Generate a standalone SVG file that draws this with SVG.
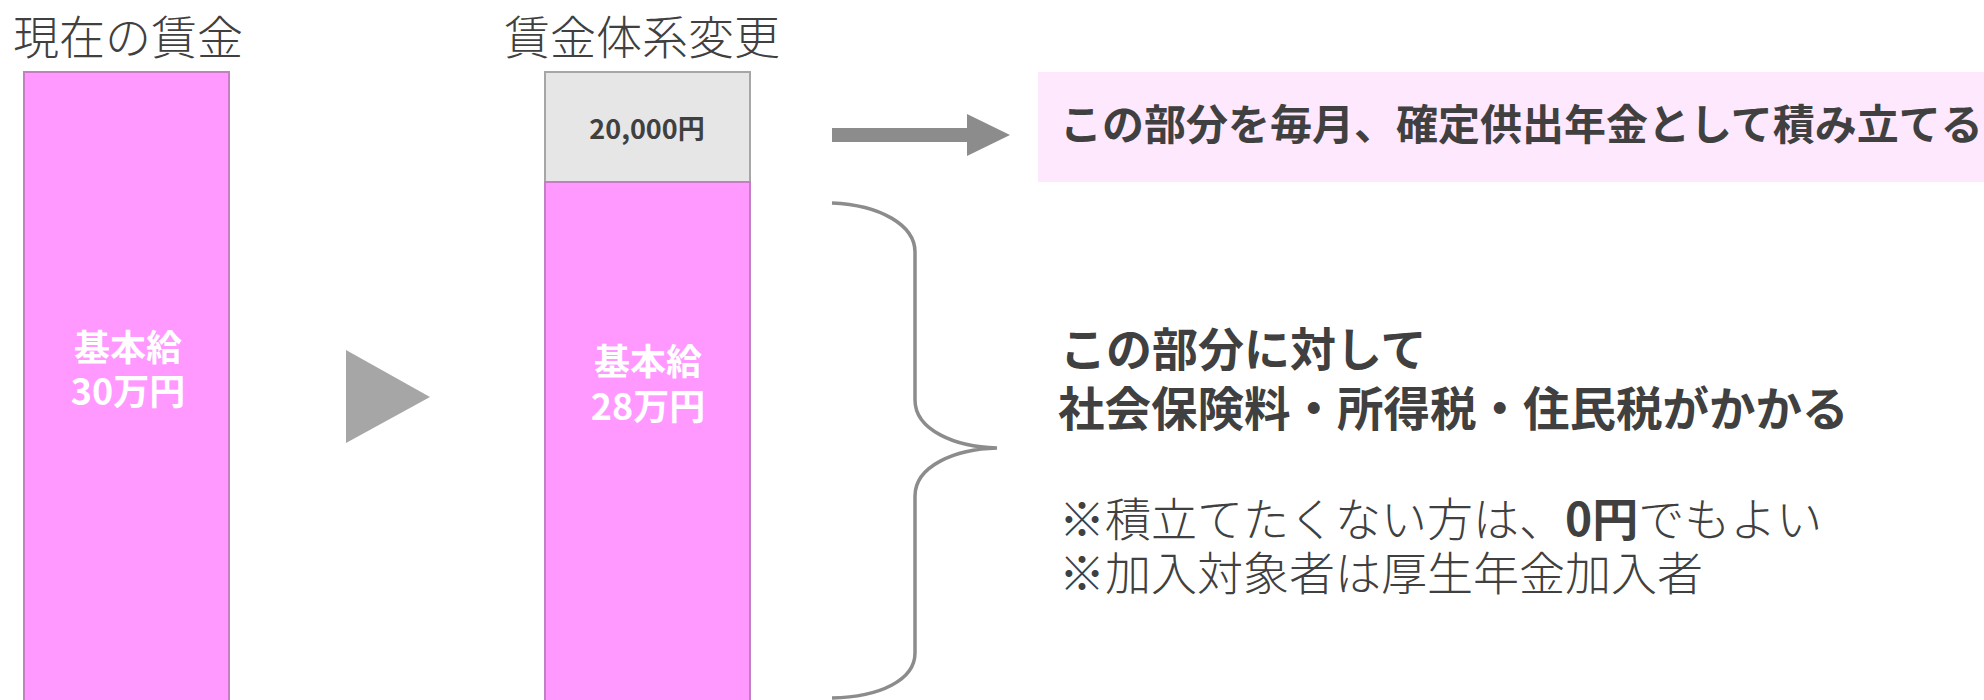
<svg xmlns="http://www.w3.org/2000/svg" width="1984" height="700" viewBox="0 0 1984 700">
<style>
  text { font-family: "Noto Sans CJK JP", "Noto Sans", sans-serif; fill: #404040; }
  .title { font-size: 46px; font-weight: 300; }
  .pinkbar { fill: #ff99ff; stroke: #c47fc4; stroke-width: 2; }
  .graybox { fill: #e6e6e6; stroke: #a6a6a6; stroke-width: 2; }
  .barlabel { font-size: 36px; font-weight: 700; fill: #ffffff; text-anchor: middle; }
</style>
<rect width="1984" height="700" fill="#ffffff"/>

<g id="title-current">
  <text class="title" x="13" y="54">現在の賃金</text>
</g>
<g id="title-change">
  <text class="title" x="504" y="54" font-size="47">賃金体系変更</text>
</g>

<g id="bar-current">
  <rect class="pinkbar" x="24" y="72" width="205" height="640"/>
  <text class="barlabel" x="128" y="361">基本給</text>
  <text class="barlabel" x="128" y="405">30万円</text>
</g>

<g id="bar-dc">
  <rect class="graybox" x="545" y="72" width="205" height="110"/>
  <text x="647" y="139" font-size="27" font-weight="700" text-anchor="middle">20,000円</text>
</g>

<g id="bar-new">
  <rect class="pinkbar" x="545" y="182" width="205" height="530"/>
  <text class="barlabel" x="648" y="375">基本給</text>
  <text class="barlabel" x="648" y="420">28万円</text>
</g>

<g id="note-dc">
  <rect x="1038" y="72" width="946" height="110" fill="#fde8fd"/>
  <text x="1060" y="140" font-size="42" font-weight="700">この部分を毎月、確定供出年金として積み立てる</text>
</g>

<g id="note-tax">
  <text x="1060" y="366" font-size="46" font-weight="700">この部分に対して</text>
  <text x="1058" y="426" font-size="46.5" font-weight="700">社会保険料・所得税・住民税がかかる</text>
  <text x="1059" y="536" font-size="46" font-weight="300">※積立てたくない方は、<tspan font-weight="700">0円</tspan>でもよい</text>
  <text x="1059" y="590" font-size="46" font-weight="300">※加入対象者は厚生年金加入者</text>
</g>

<g id="connectors">
  <polygon points="346,350 430,397 346,443" fill="#a6a6a6"/>
  <polygon points="832,128 967,128 967,114 1010,135 967,156 967,142 832,142" fill="#8c8c8c"/>
  <path d="M832,203 C880,205 915,225 915,252 L915,400 C915,430 955,447 997,448 C955,449 915,466 915,496 L915,653 C915,680 880,697 832,698" fill="none" stroke="#8c8c8c" stroke-width="3.5"/>
</g>
</svg>
